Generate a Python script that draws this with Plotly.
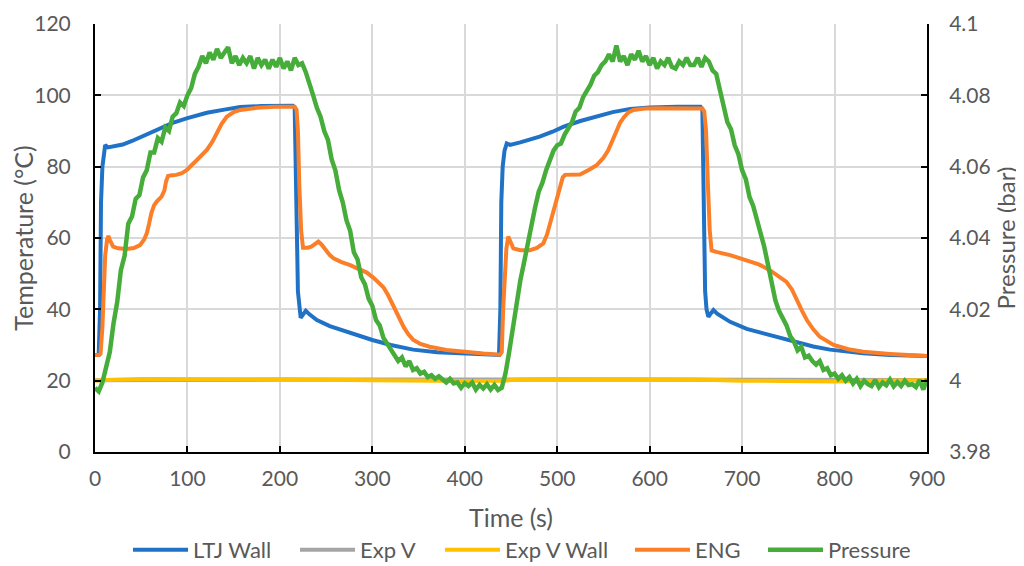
import plotly.graph_objects as go

# ---------------- data ----------------
ltj_t = [0, 4, 5.5, 6.5, 8, 10, 11, 14, 20, 30, 40, 50, 60, 70, 84, 100, 121, 140, 157, 180, 200, 214,
         216, 217.5, 218.5, 219.5, 221, 222.5, 225, 228, 232, 240, 254, 265, 280, 300, 320, 344, 370, 398, 420, 437,
         438.5, 439.5, 441, 443, 445.4, 449, 460, 481, 495, 507, 525, 543, 560, 579, 600, 630, 655,
         657, 658, 659, 660, 661.5, 663.5, 666, 669, 673, 680, 687, 705, 723, 741, 760, 777, 795, 813, 831, 860, 900]
ltj_v = [27.2, 27.3, 40, 70, 80, 85.5, 86.1, 85.4, 85.6, 86.2, 87.2, 88.4, 89.6, 90.7, 92.3, 93.6, 95.1, 96.0, 96.7, 97.0, 97.1, 97.1,
         96.5, 80, 60, 45, 40, 37.6, 38.5, 39.6, 38.6, 37.0, 35.3, 34.3, 33.0, 31.4, 30.0, 28.7, 28.0, 27.6, 27.4, 27.2,
         40, 70, 80, 84.5, 86.5, 86.1, 86.8, 88.4, 89.8, 91.2, 92.8, 94.2, 95.3, 96.2, 96.6, 96.8, 96.8,
         96, 80, 60, 45, 40, 37.9, 38.8, 39.8, 38.8, 37.6, 36.5, 34.5, 33.3, 32.2, 30.8, 29.6, 28.7, 28.1, 27.7, 27.2, 26.9]

eng_t = [0, 4, 6, 8, 9.5, 11, 13, 14.5, 16, 19.6, 25, 34, 42, 48.7, 53, 56, 58.5, 61, 64, 67, 72, 75, 77, 79, 83, 88, 94, 99,
         110, 121, 127, 132, 137, 142.5, 150, 157, 175, 195, 216, 218, 219.5, 221, 223, 225, 230, 234, 238, 241.6, 245, 250,
         254, 258, 266, 276, 283, 294, 301, 306, 312, 317, 323, 328, 334, 339, 344, 352, 362, 380, 398, 420, 438,
         440, 441.5, 443, 445, 447, 449, 452.5, 460, 470.6, 478, 485, 489, 494, 497, 499.5, 502, 504, 506, 508.5, 515, 524.7,
         535, 543, 550, 555, 560, 564.4, 568, 572, 577, 582.4, 595, 610, 640, 657, 659, 661, 663, 665, 667, 672, 687, 705,
         718, 730, 740, 748, 754, 759, 765, 770, 777, 784, 792, 799, 815, 831, 860, 900]
eng_v = [27.2, 27.2, 27.5, 35, 45, 55, 59.5, 60.6, 59.5, 57.6, 57.1, 56.9, 57.2, 58, 59.5, 61.3, 64, 67, 69.2, 70.3, 71.6, 73.3, 76, 77.4, 77.6, 77.7, 78.2, 79,
         81.8, 84.7, 87, 89.5, 92, 94, 95.3, 95.9, 96.5, 96.8, 96.8, 96, 90, 75, 62, 57.3, 57.3, 57.6, 58.5, 59, 58.2, 56.4,
         55.2, 54.3, 53.3, 52.4, 51.6, 50.3, 48.9, 47.8, 46.2, 44, 40.8, 37.8, 35, 33, 31.5, 30.3, 29.5, 28.6, 28.1, 27.6, 27.3,
         28, 40, 50, 57, 60.4, 59, 57.1, 56.6, 56.6, 57.2, 58.5, 61, 66, 68.5, 70.7, 73, 75.5, 77, 77.7, 77.7, 77.8,
         79.2, 80.5, 82.5, 84.5, 87.5, 90.3, 92.3, 93.8, 95.2, 95.9, 96.3, 96.4, 96.3, 96.3, 95.5, 90, 75, 62, 56.5, 56.1, 55.2, 53.8,
         52.6, 51, 49.2, 47.7, 45.5, 42.6, 39.5, 37, 34.4, 32.3, 30.9, 30, 28.8, 28.1, 27.5, 26.9]

expv_t = [0, 100, 200, 300, 400, 500, 600, 700, 800, 900]
expv_v = [20.1, 20.3, 20.3, 20.3, 20.2, 20.3, 20.3, 20.3, 20.3, 20.2]

expvwall_t = [0, 10, 50, 100, 200, 300, 350, 400, 440, 460, 500, 550, 650, 700, 750, 800, 850, 900]
expvwall_v = [20.0, 20.2, 20.5, 20.5, 20.4, 20.1, 19.9, 19.9, 20.0, 20.3, 20.5, 20.5, 20.3, 20.0, 19.8, 19.8, 20.0, 20.1]

# pressure sampled every 4 s (t = 0 ... 900)
pressure_t = list(range(0, 901, 4))
pressure = [
    3.998, 3.997, 3.9995, 4.004, 4.008, 4.016, 4.022, 4.031, 4.035, 4.044, 4.046, 4.051, 4.052, 4.057, 4.059, 4.064, 4.064, 4.068, 4.067, 4.071, 4.070, 4.074, 4.075, 4.078, 4.077,
    4.080, 4.082, 4.086, 4.088, 4.091, 4.089, 4.092, 4.090, 4.093, 4.0905, 4.092, 4.0935, 4.089, 4.091, 4.0885, 4.0905, 4.089, 4.091, 4.0875, 4.0905, 4.0885, 4.090, 4.0875, 4.090, 4.088,
    4.0905, 4.0875, 4.0895, 4.087, 4.0905, 4.0885, 4.089, 4.0865, 4.0835, 4.080, 4.0765, 4.074, 4.070, 4.0675, 4.062, 4.059, 4.0535, 4.050, 4.045, 4.042, 4.036, 4.034, 4.029, 4.027, 4.023,
    4.021, 4.017, 4.0155, 4.012, 4.0105, 4.0085, 4.0075, 4.0055, 4.0065, 4.004, 4.0055, 4.003, 4.0035, 4.002, 4.0025, 4.001, 4.0015, 4.0005, 4.0012, 4.0003, 3.9995, 4.0005, 3.9992, 3.9995, 3.998,
    3.9993, 3.9985, 3.9995, 3.9975, 3.9988, 3.9978, 3.999, 3.9975, 3.9988, 3.9974, 3.998, 4.002, 4.008, 4.015, 4.0215, 4.028, 4.033, 4.0385, 4.044, 4.0485, 4.053, 4.0555, 4.059, 4.0615, 4.0645,
    4.066, 4.0665, 4.069, 4.0705, 4.0725, 4.0755, 4.0765, 4.0795, 4.081, 4.083, 4.0855, 4.0865, 4.0885, 4.0895, 4.0915, 4.0895, 4.094, 4.0895, 4.091, 4.0885, 4.0915, 4.090, 4.0925, 4.0895, 4.091,
    4.0885, 4.0905, 4.0875, 4.0895, 4.0885, 4.0905, 4.088, 4.0875, 4.0895, 4.0885, 4.0905, 4.0885, 4.0885, 4.0905, 4.088, 4.0905, 4.0895, 4.087, 4.086, 4.0815, 4.0775, 4.0725, 4.0705, 4.066, 4.0635,
    4.059, 4.0565, 4.0515, 4.049, 4.0455, 4.0415, 4.0375, 4.0325, 4.027, 4.0225, 4.0195, 4.0175, 4.0155, 4.0125, 4.011, 4.0085, 4.0095, 4.0065, 4.007, 4.0055, 4.0045, 4.0055, 4.003, 4.0035, 4.0015,
    4.002, 4.0005, 4.0015, 4.0000, 4.001, 3.9992, 4.0005, 3.9985, 4.000, 3.999, 3.9985, 4.0002, 3.9982, 3.9995, 3.9987, 4.0003, 3.9984, 3.9996, 3.9985, 4.0000, 3.9988, 3.999, 3.9982, 4.0002, 3.9975,
    4.0005,
]

x_ticks = [0, 100, 200, 300, 400, 500, 600, 700, 800, 900]
y_ticks = [0, 20, 40, 60, 80, 100, 120]
y2_ticks = [3.98, 4.0, 4.02, 4.04, 4.06, 4.08, 4.1]
y2_labels = ["3.98", "4", "4.02", "4.04", "4.06", "4.08", "4.1"]

# ---------------- styling ----------------
FONT = "Lato, Carlito, 'Liberation Sans', sans-serif"
TXT = "#595959"
GRID = "#D9D9D9"

fig = go.Figure()
fig.add_trace(go.Scatter(x=ltj_t, y=ltj_v, name="LTJ Wall", mode="lines", legend="legend",
                         line=dict(color="#1F72C6", width=4)))
fig.add_trace(go.Scatter(x=expv_t, y=expv_v, name="Exp V", mode="lines", legend="legend2",
                         line=dict(color="#A5A5A5", width=4)))
fig.add_trace(go.Scatter(x=expvwall_t, y=expvwall_v, name="Exp V Wall", mode="lines", legend="legend3",
                         line=dict(color="#FFC000", width=4)))
fig.add_trace(go.Scatter(x=eng_t, y=eng_v, name="ENG", mode="lines", legend="legend4",
                         line=dict(color="#FB7E28", width=4)))
fig.add_trace(go.Scatter(x=pressure_t, y=pressure, name="Pressure", mode="lines", yaxis="y2", legend="legend5",
                         line=dict(color="#47AD3A", width=4.5)))

axis_common = dict(showline=True, linecolor="black", linewidth=2,
                   ticks="inside", ticklen=6, tickwidth=2, tickcolor="black",
                   tickfont=dict(family=FONT, size=21, color=TXT), zeroline=False)


def legend_at(xp):
    return dict(orientation="h", x=xp, xanchor="left", y=-0.229, yanchor="middle",
                font=dict(family=FONT, size=22, color=TXT), bgcolor="rgba(0,0,0,0)",
                itemwidth=55)


# the page body has an 8 px margin, so the figure is 8 px smaller than the window
fig.update_layout(
    width=1016, height=558, autosize=False,
    paper_bgcolor="white", plot_bgcolor="white",
    margin=dict(l=87, r=97, t=16, b=114, autoexpand=False),
    font=dict(family=FONT, color=TXT),
    xaxis=dict(range=[0, 900], tickmode="array", tickvals=x_ticks, ticktext=[str(v) for v in x_ticks],
               showgrid=True, gridcolor=GRID, gridwidth=1.5, ticklabelstandoff=7,
               title=dict(text="Time (s)", font=dict(family=FONT, size=25, color=TXT), standoff=20),
               **axis_common),
    yaxis=dict(range=[0, 120], tickmode="array", tickvals=y_ticks, ticktext=[str(v) for v in y_ticks],
               showgrid=True, gridcolor=GRID, gridwidth=1.5, ticklabelstandoff=18,
               title=dict(text="Temperature (°C)", font=dict(family=FONT, size=25, color=TXT), standoff=0),
               **axis_common),
    yaxis2=dict(range=[3.98, 4.1], overlaying="y", side="right", tickmode="array",
                tickvals=y2_ticks, ticktext=y2_labels, showgrid=False, ticklabelstandoff=16,
                title=dict(text="Pressure (bar)", font=dict(family=FONT, size=24, color=TXT), standoff=0),
                **axis_common),
    legend=legend_at(0.0397),
    legend2=legend_at(0.2404),
    legend3=legend_at(0.4147),
    legend4=legend_at(0.6430),
    legend5=legend_at(0.8029),
    showlegend=True,
)

fig.write_html("out.html")
